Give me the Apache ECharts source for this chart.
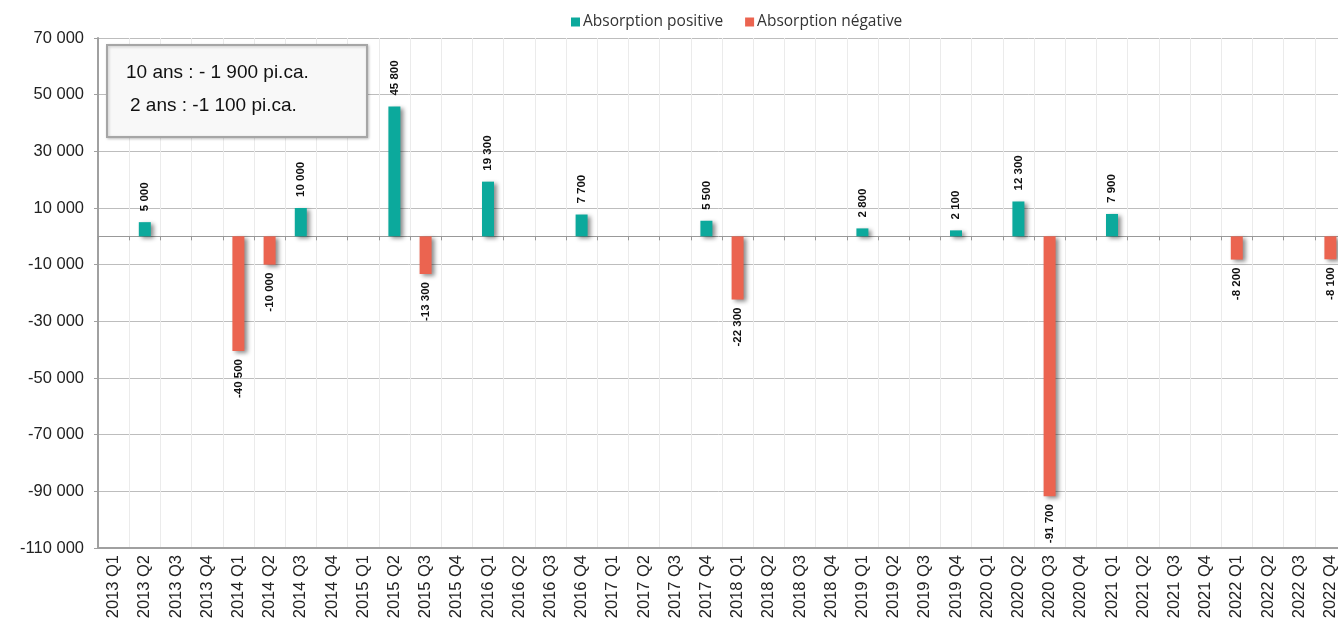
<!DOCTYPE html>
<html>
<head>
<meta charset="utf-8">
<script src="https://cdn.jsdelivr.net/npm/echarts@6/dist/echarts.min.js"></script>
<style>
html,body{margin:0;padding:0;background:#fff;}
#chart{width:1338px;height:618px;}
</style>
</head>
<body>
<div id="chart"></div>
<script>
var categories = [
 '2013 Q1','2013 Q2','2013 Q3','2013 Q4',
 '2014 Q1','2014 Q2','2014 Q3','2014 Q4',
 '2015 Q1','2015 Q2','2015 Q3','2015 Q4',
 '2016 Q1','2016 Q2','2016 Q3','2016 Q4',
 '2017 Q1','2017 Q2','2017 Q3','2017 Q4',
 '2018 Q1','2018 Q2','2018 Q3','2018 Q4',
 '2019 Q1','2019 Q2','2019 Q3','2019 Q4',
 '2020 Q1','2020 Q2','2020 Q3','2020 Q4',
 '2021 Q1','2021 Q2','2021 Q3','2021 Q4',
 '2022 Q1','2022 Q2','2022 Q3','2022 Q4'
];
var positiveValues = [
 null,5000,null,null,
 null,null,10000,null,
 null,45800,null,null,
 19300,null,null,7700,
 null,null,null,5500,
 null,null,null,null,
 2800,null,null,2100,
 null,12300,null,null,
 7900,null,null,null,
 null,null,null,null
];
var negativeValues = [
 null,null,null,null,
 -40500,-10000,null,null,
 null,null,-13300,null,
 null,null,null,null,
 null,null,null,null,
 -22300,null,null,null,
 null,null,null,null,
 null,null,-91700,null,
 null,null,null,null,
 -8200,null,null,-8100
];
var yTicks = [-110000,-90000,-70000,-50000,-30000,-10000,10000,30000,50000,70000];
var seriesNames = ['Absorption positive','Absorption négative'];
var summaryLines = ['10 ans : - 1 900 pi.ca.', '2 ans : -1 100 pi.ca.'];

function fmt(v){
  var s = Math.abs(v).toString().replace(/\B(?=(\d{3})+(?!\d))/g,' ');
  return (v < 0 ? '-' : '') + s;
}

var chart = echarts.init(document.getElementById('chart'), null, {renderer:'canvas'});
var shadow = {shadowBlur:4, shadowOffsetX:3, shadowOffsetY:2, shadowColor:'rgba(0,0,0,0.45)'};
var option = {
  animation:false,
  legend:{
    top:9, left:566,
    itemWidth:9, itemHeight:9, itemGap:22,
    icon:'rect',
    textStyle:{fontFamily:'Open Sans', fontSize:15.5, color:'#333', padding:[0,0,0,-2]},
    data:seriesNames
  },
  grid:{left:98, width:1248, top:38, bottom:70, containLabel:false, outerBoundsMode:'none'},
  xAxis:[{
    type:'category', data:categories, position:'bottom',
    axisLine:{onZero:false, lineStyle:{color:'#a0a0a0', width:2}},
    axisTick:{show:false},
    axisLabel:{rotate:90, interval:0, fontFamily:'Liberation Sans', fontSize:16.5, color:'#222', margin:7},
    splitLine:{show:true, interval:0, lineStyle:{color:'#ebebeb', width:1}}
  },{
    type:'category', data:categories, position:'top',
    axisLine:{onZero:true, lineStyle:{color:'#999', width:1}},
    axisTick:{show:true, inside:true, length:4, interval:0, lineStyle:{color:'#999'}},
    axisLabel:{show:false},
    splitLine:{show:false}
  }],
  yAxis:{
    type:'value', min:-110000, max:70000,
    axisLine:{show:true, lineStyle:{color:'#a0a0a0', width:2}},
    axisTick:{show:true, length:4, customValues:yTicks, lineStyle:{color:'#a0a0a0'}},
    axisLabel:{customValues:yTicks, formatter:function(v){return fmt(v);}, fontFamily:'Liberation Sans', fontSize:16.5, color:'#222', margin:14},
    splitLine:{show:true, lineStyle:{color:'#bdbdbd', width:1}}
  },
  graphic:[{
    type:'group', left:106, top:44, z:100,
    children:[
      {type:'rect', z:100, shape:{x:0,y:0,width:260,height:92}, style:{fill:'#f8f8f8', stroke:'#a6a6a6', lineWidth:2, shadowBlur:3, shadowOffsetX:1, shadowOffsetY:1, shadowColor:'rgba(0,0,0,0.2)'}},
      {type:'text', z:101, x:19, y:28, style:{text:summaryLines[0], font:'19px "Liberation Sans"', fill:'#111', verticalAlign:'middle'}},
      {type:'text', z:101, x:23, y:61, style:{text:summaryLines[1], font:'19px "Liberation Sans"', fill:'#111', verticalAlign:'middle'}}
    ]
  }],
  series:[{
    name:seriesNames[0], type:'bar', stack:'a', data:positiveValues, barWidth:12,
    itemStyle:Object.assign({color:'#0ca99c'}, shadow),
    label:{show:true, position:'top', rotate:90, align:'left', verticalAlign:'middle', distance:11,
      fontFamily:'Liberation Sans', fontSize:11.5, fontWeight:'bold', color:'#111',
      formatter:function(p){return fmt(p.value);}}
  },{
    name:seriesNames[1], type:'bar', stack:'a', data:negativeValues, barWidth:12,
    itemStyle:Object.assign({color:'#eb6450'}, shadow),
    label:{show:true, position:'bottom', rotate:90, align:'right', verticalAlign:'middle', distance:8,
      fontFamily:'Liberation Sans', fontSize:11.5, fontWeight:'bold', color:'#111',
      formatter:function(p){return fmt(p.value);}}
  }]
};
chart.setOption(option);
</script>
</body>
</html>
